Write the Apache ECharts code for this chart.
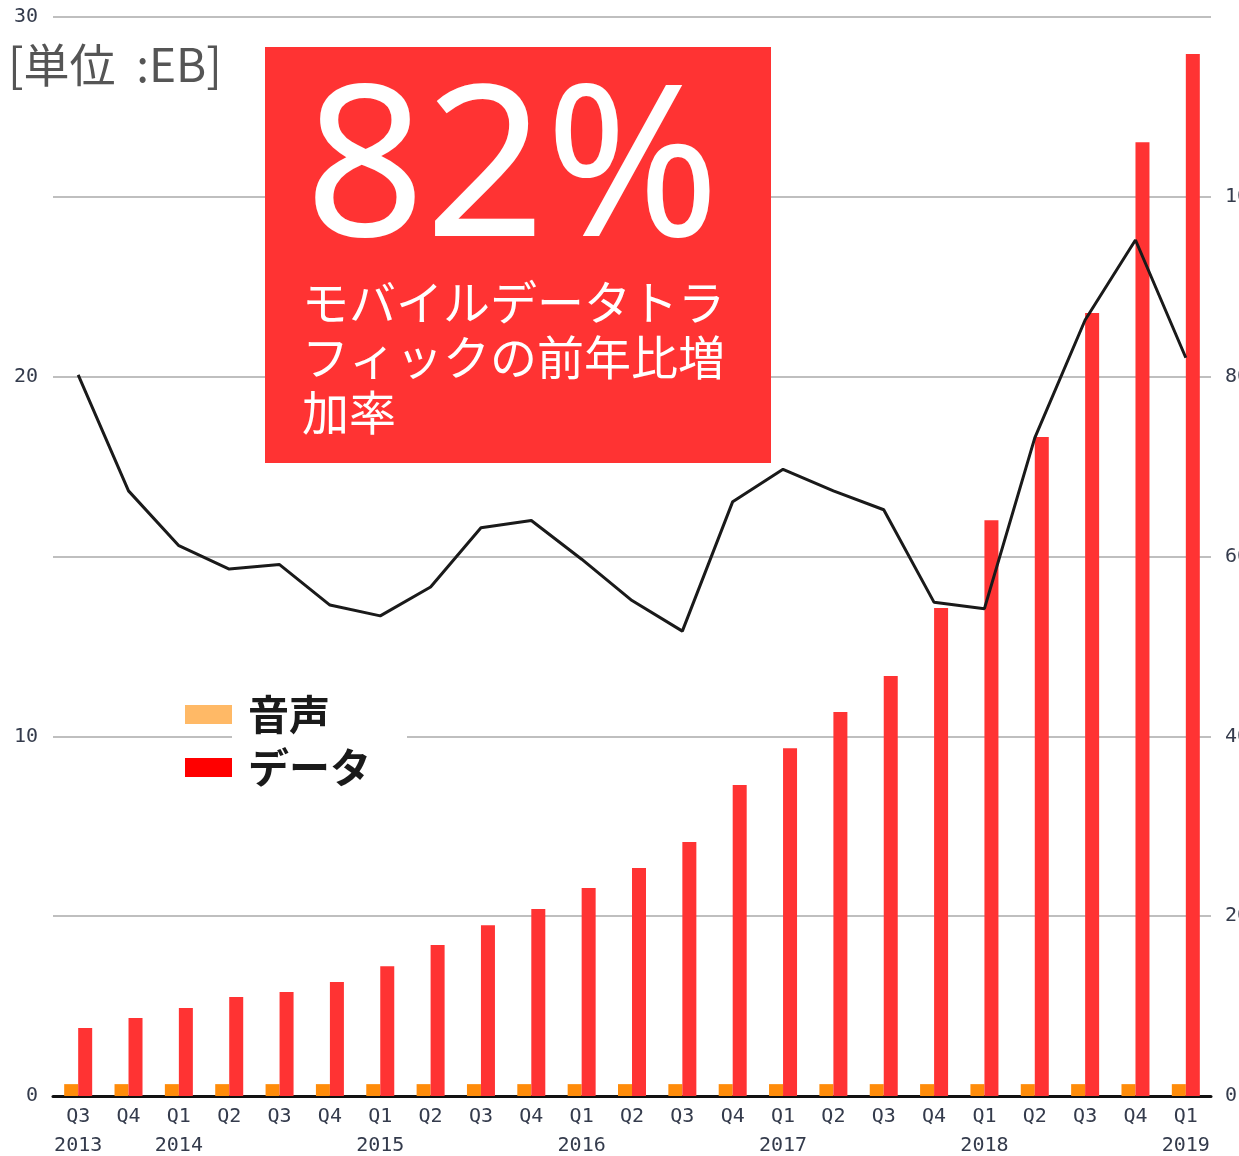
<!DOCTYPE html>
<html>
<head>
<meta charset="utf-8">
<script src="https://cdn.jsdelivr.net/npm/echarts@6/dist/echarts.min.js"></script>
<style>
  html, body { margin: 0; padding: 0; background: #fff; }
  #chart { width: 1239px; height: 1156px; }
</style>
</head>
<body>
<div id="chart"></div>
<script>
const quarters = ["Q3", "Q4", "Q1", "Q2", "Q3", "Q4", "Q1", "Q2", "Q3", "Q4", "Q1", "Q2",
  "Q3", "Q4", "Q1", "Q2", "Q3", "Q4", "Q1", "Q2", "Q3", "Q4", "Q1"];
const years = ["2013", "", "2014", "", "", "", "2015", "", "", "", "2016", "",
  "", "", "2017", "", "", "", "2018", "", "", "", "2019"];

// EB per quarter
const voice = [0.33, 0.33, 0.33, 0.33, 0.33, 0.33, 0.33, 0.33, 0.33, 0.33, 0.33, 0.33,
  0.33, 0.33, 0.33, 0.33, 0.33, 0.33, 0.33, 0.33, 0.33, 0.33, 0.33];
const dataTraffic = [1.89, 2.17, 2.45, 2.75, 2.89, 3.17, 3.61, 4.2, 4.75, 5.2, 5.78, 6.34,
  7.06, 8.65, 9.67, 10.68, 11.68, 13.57, 16.01, 18.32, 21.77, 26.52, 28.97];
// year-on-year growth, %
const growth = [80.2, 67.3, 61.2, 58.6, 59.1, 54.6, 53.4, 56.6, 63.2, 64.0, 59.7, 55.1,
  51.7, 66.1, 69.7, 67.3, 65.2, 54.9, 54.2, 73.2, 86.3, 95.2, 82.1];

const categories = quarters.map((q, i) => years[i] ? q + "\n" + years[i] : q);

const chart = echarts.init(document.getElementById("chart"));

const axisFont = {
  fontFamily: "DejaVu Sans Mono",
  fontSize: 20,
  color: "#343b4c",
};

const option = {
  animation: false,
  backgroundColor: "#fff",
  grid: { left: 53, right: 28, top: 17, bottom: 60, outerBoundsMode: "none" },
  legend: {
    orient: "vertical",
    left: 185,
    top: 694,
    padding: 0,
    itemWidth: 47,
    itemHeight: 19,
    itemGap: 12,
    icon: "rect",
    textStyle: {
      fontFamily: "Noto Sans CJK JP",
      fontSize: 41,
      lineHeight: 41,
      fontWeight: "bold",
      color: "#1a1a1a",
      padding: [0, 0, 0, 11],
    },
    data: [
      { name: "音声", itemStyle: { color: "#FFB966" } },
      { name: "データ", itemStyle: { color: "#FF0000" } },
    ],
  },
  xAxis: {
    type: "category",
    data: categories,
    axisTick: { show: false },
    axisLine: { lineStyle: { color: "#111", width: 3 } },
    axisLabel: {
      ...axisFont,
      interval: 0,
      margin: 6,
      lineHeight: 29,
    },
  },
  yAxis: [
    {
      type: "value",
      min: 0,
      max: 30,
      interval: 5,
      axisLabel: {
        ...axisFont,
        margin: 15,
        formatter: (v) => (v % 10 === 0 ? String(v) : ""),
      },
      splitLine: { lineStyle: { color: "#aaaaaa", width: 1.5 } },
    },
    {
      type: "value",
      min: 0,
      max: 120,
      interval: 20,
      axisLabel: {
        ...axisFont,
        margin: 14,
        showMaxLabel: false,
      },
      splitLine: { show: false },
    },
  ],
  series: [
    {
      name: "音声",
      type: "bar",
      data: voice,
      barWidth: 14,
      barGap: "0%",
      itemStyle: { color: "#FF8C0A" },
    },
    {
      name: "データ",
      type: "bar",
      data: dataTraffic,
      barWidth: 14,
      itemStyle: { color: "#FF3333" },
    },
    {
      name: "growth",
      type: "line",
      yAxisIndex: 1,
      data: growth,
      symbol: "none",
      lineStyle: { color: "#1a1a1a", width: 3 },
    },
  ],
  graphic: [
    {
      type: "text",
      left: 8,
      top: 42,
      style: {
        text: "[単位  :EB]",
        fontFamily: "Noto Sans CJK JP",
        fontSize: 46,
        fill: "#555",
      },
    },
    {
      type: "rect",
      z: 1,
      shape: { x: 232, y: 688, width: 175, height: 112 },
      style: { fill: "#fff" },
    },
    {
      type: "rect",
      z: 100,
      shape: { x: 265, y: 47, width: 506, height: 416 },
      style: { fill: "#FF3333" },
    },
    {
      type: "text",
      z: 101,
      x: 305,
      y: 176,
      style: {
        text: "82%",
        fontFamily: "Noto Sans",
        fontSize: 210,
        fill: "#fff",
        verticalAlign: "middle",
      },
    },
    {
      type: "text",
      z: 101,
      x: 302,
      y: 275,
      style: {
        text: "モバイルデータトラ\nフィックの前年比増\n加率",
        fontFamily: "Noto Sans CJK JP",
        fontSize: 47,
        lineHeight: 55,
        fill: "#fff",
        verticalAlign: "top",
      },
    },
  ],
};

chart.setOption(option);
</script>
</body>
</html>
